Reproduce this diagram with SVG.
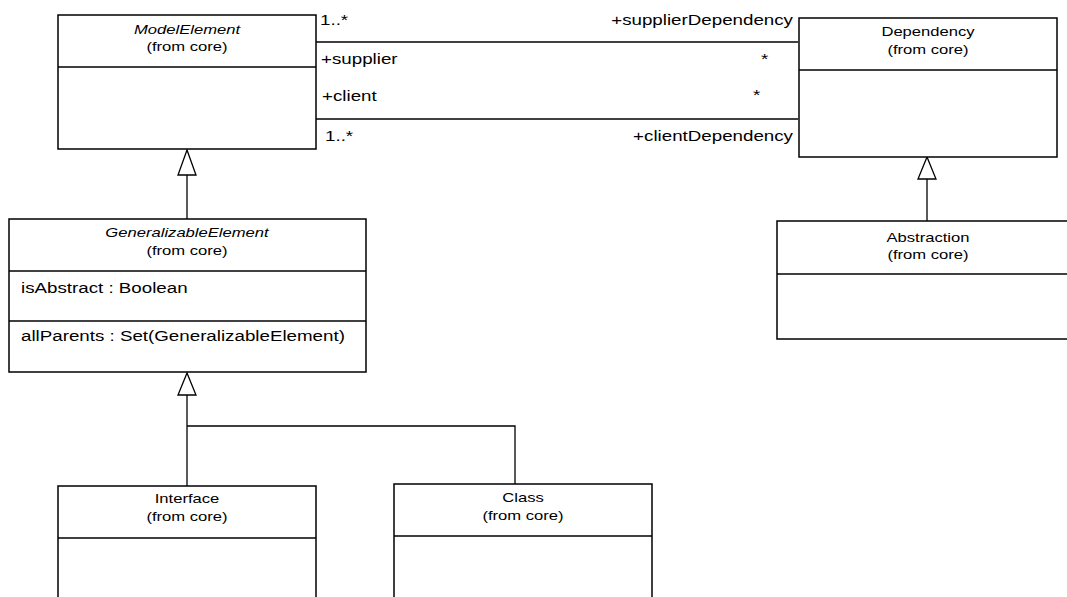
<svg xmlns="http://www.w3.org/2000/svg" width="1067" height="597" viewBox="0 0 1067 597">
  <style>
    .box { fill: #ffffff; stroke: #000000; stroke-width: 1.5; }
    .div { stroke: #000000; stroke-width: 1.5; fill: none; }
    .edge { stroke: #000000; stroke-width: 1.3; fill: none; }
    .tri { fill: #ffffff; stroke: #000000; stroke-width: 1.3; }
    text { font-family: "Liberation Sans", Arial, sans-serif; fill: #000000; }
    .h { font-size: 13.5px; text-anchor: middle; }
    .hi { font-size: 13.5px; text-anchor: middle; font-style: italic; }
    .a { font-size: 15.5px; }
    .ar { font-size: 15.5px; text-anchor: end; }
  </style>

  <!-- connectors: associations and generalizations -->
  <g id="connectors">
    <!-- supplier / supplierDependency -->
    <line class="edge" x1="316" y1="42" x2="798" y2="42"/>
    <!-- client / clientDependency -->
    <line class="edge" x1="316" y1="119" x2="798" y2="119"/>
    <!-- GeneralizableElement -> ModelElement -->
    <line class="edge" x1="187" y1="175" x2="187" y2="219"/>
    <polygon class="tri" points="187,150 178,175 196,175"/>
    <!-- Interface, Class -> GeneralizableElement -->
    <polyline class="edge" points="187,395 187,486"/>
    <polyline class="edge" points="187,426 515,426 515,484"/>
    <polygon class="tri" points="187,373 178,395 196,395"/>
    <!-- Abstraction -> Dependency -->
    <line class="edge" x1="927" y1="179" x2="927" y2="221"/>
    <polygon class="tri" points="927,157 918,179 936,179"/>

    <!-- association end labels -->
    <text class="a" transform="translate(320,25) scale(1.21,1)">1..*</text>
    <text class="ar" transform="translate(793,25) scale(1.21,1)">+supplierDependency</text>
    <text class="a" transform="translate(321,64) scale(1.21,1)">+supplier</text>
    <text class="a" transform="translate(761,64) scale(1.21,1)">*</text>
    <text class="a" transform="translate(322,101) scale(1.21,1)">+client</text>
    <text class="a" transform="translate(753,100) scale(1.21,1)">*</text>
    <text class="a" transform="translate(325,141) scale(1.21,1)">1..*</text>
    <text class="ar" transform="translate(793,141) scale(1.21,1)">+clientDependency</text>
  </g>

  <g id="ModelElement">
    <rect class="box" x="58" y="15" width="258" height="134"/>
    <line class="div" x1="58" y1="67" x2="316" y2="67"/>
    <text class="hi" transform="translate(187,34) scale(1.23,1)">ModelElement</text>
    <text class="h" transform="translate(187,51) scale(1.23,1)">(from core)</text>
  </g>

  <g id="Dependency">
    <rect class="box" x="799" y="18" width="258" height="139"/>
    <line class="div" x1="799" y1="70" x2="1057" y2="70"/>
    <text class="h" transform="translate(928,36) scale(1.23,1)">Dependency</text>
    <text class="h" transform="translate(928,54) scale(1.23,1)">(from core)</text>
  </g>

  <g id="GeneralizableElement">
    <rect class="box" x="9" y="219" width="357" height="153"/>
    <line class="div" x1="9" y1="271" x2="366" y2="271"/>
    <line class="div" x1="9" y1="321" x2="366" y2="321"/>
    <text class="hi" transform="translate(187,237) scale(1.23,1)">GeneralizableElement</text>
    <text class="h" transform="translate(187,255) scale(1.23,1)">(from core)</text>
    <text class="a" transform="translate(21,293) scale(1.21,1)">isAbstract : Boolean</text>
    <text class="a" transform="translate(21,341) scale(1.21,1)">allParents : Set(GeneralizableElement)</text>
  </g>

  <g id="Abstraction">
    <rect class="box" x="777" y="221" width="302" height="118"/>
    <line class="div" x1="777" y1="274" x2="1079" y2="274"/>
    <text class="h" transform="translate(928,242) scale(1.23,1)">Abstraction</text>
    <text class="h" transform="translate(928,259) scale(1.23,1)">(from core)</text>
  </g>

  <g id="Interface">
    <rect class="box" x="58" y="486" width="258" height="130"/>
    <line class="div" x1="58" y1="538" x2="316" y2="538"/>
    <text class="h" transform="translate(187,503) scale(1.23,1)">Interface</text>
    <text class="h" transform="translate(187,521) scale(1.23,1)">(from core)</text>
  </g>

  <g id="Class">
    <rect class="box" x="394" y="484" width="258" height="130"/>
    <line class="div" x1="394" y1="536" x2="652" y2="536"/>
    <text class="h" transform="translate(523,502) scale(1.23,1)">Class</text>
    <text class="h" transform="translate(523,520) scale(1.23,1)">(from core)</text>
  </g>
</svg>
